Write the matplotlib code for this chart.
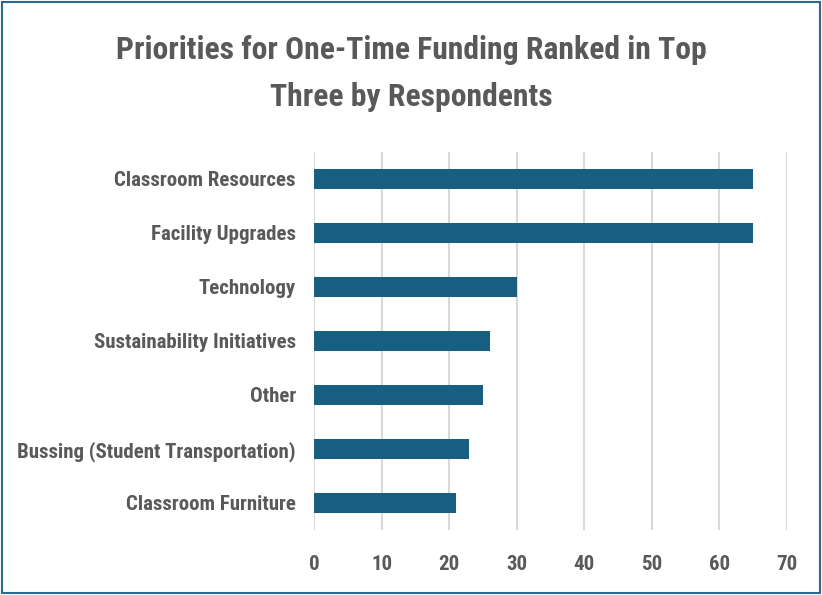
import matplotlib.pyplot as plt
from matplotlib.patches import Rectangle

# 데이터
categories = ['Classroom Resources', 'Facility Upgrades', 'Technology',
              'Sustainability Initiatives', 'Other',
              'Bussing (Student Transportation)', 'Classroom Furniture']
values = [65, 65, 30, 26, 25, 23, 21]
x_ticks = [0, 10, 20, 30, 40, 50, 60, 70]

plt.rcParams['font.family'] = ['Roboto Condensed', 'DejaVu Sans']
text_color = '#595959'

fig = plt.figure(figsize=(8.22, 5.95), dpi=100)
ax = fig.add_axes([314 / 822, 1 - 530 / 595, (787 - 314) / 822, (530 - 152) / 595])

ypos = list(range(len(categories)))[::-1]
ax.barh(ypos, values, height=0.36, color='#175F80', zorder=3)

ax.set_xlim(0, 70)
ax.set_ylim(-0.5, 6.5)
ax.set_xticks(x_ticks)
ax.set_yticks(ypos)
ax.set_yticklabels(categories)
ax.grid(axis='x', color='#D9D9D9', linewidth=1.5, zorder=0)
for s in ax.spines.values():
    s.set_visible(False)
ax.tick_params(axis='both', length=0, colors=text_color, labelsize=15)
ax.tick_params(axis='y', pad=13)
ax.tick_params(axis='x', pad=18)
for lbl in ax.get_xticklabels() + ax.get_yticklabels():
    lbl.set_fontweight('bold')

fig.text(0.5, 1 - 50 / 595, 'Priorities for One-Time Funding Ranked in Top',
         ha='center', va='center', fontsize=22.8, fontweight='bold', color=text_color)
fig.text(0.5, 1 - 97 / 595, 'Three by Respondents',
         ha='center', va='center', fontsize=22.8, fontweight='bold', color=text_color)

# 테두리
fig.patches.append(Rectangle((0.002, 0.003), 0.996, 0.994, transform=fig.transFigure,
                             fill=False, edgecolor='#2A6A8E', linewidth=1.5))

fig.savefig('out.png', dpi=100)
